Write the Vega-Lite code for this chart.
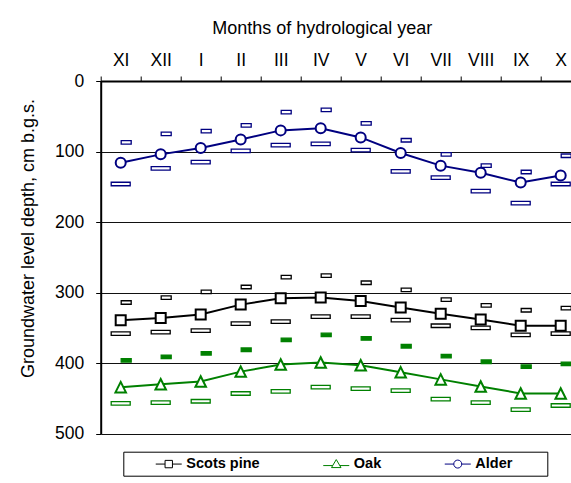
{
  "$schema": "https://vega.github.io/schema/vega-lite/v6.json",
  "width": 470.3,
  "height": 352.7,
  "autosize": {"type": "none"},
  "padding": {"left": 100.7, "top": 81, "right": 0, "bottom": 49.3},
  "background": "white",
  "config": {
    "font": "Liberation Sans",
    "view": {"stroke": null},
    "axis": {"labelColor": "black", "titleColor": "black", "labelFont": "Liberation Sans", "titleFont": "Liberation Sans"},
    "legend": {
      "orient": "none",
      "legendX": 22.6,
      "legendY": 370.7,
      "direction": "horizontal",
      "columns": 3,
      "columnPadding": 35.5,
      "symbolOffset": 33.2,
      "labelOffset": 10.3,
      "labelFont": "Liberation Sans",
      "labelFontSize": 14.5,
      "labelFontWeight": "bold",
      "labelColor": "black",
      "strokeColor": "black",
      "padding": 5,
      "symbolSize": 100,
      "symbolStrokeWidth": 1
    }
  },
  "resolve": {
    "scale": {"shape": "independent", "color": "independent"},
    "legend": {"shape": "independent", "color": "independent"}
  },
  "data": {
    "values": [
      {"month": "XI", "series": "Scots pine", "mean": 339, "hi": 314, "lo": 358},
      {"month": "XII", "series": "Scots pine", "mean": 336, "hi": 307, "lo": 356},
      {"month": "I", "series": "Scots pine", "mean": 331, "hi": 299, "lo": 354},
      {"month": "II", "series": "Scots pine", "mean": 317, "hi": 292, "lo": 344},
      {"month": "III", "series": "Scots pine", "mean": 308, "hi": 278, "lo": 341},
      {"month": "IV", "series": "Scots pine", "mean": 307, "hi": 276, "lo": 334},
      {"month": "V", "series": "Scots pine", "mean": 312, "hi": 286, "lo": 334},
      {"month": "VI", "series": "Scots pine", "mean": 321, "hi": 296, "lo": 339},
      {"month": "VII", "series": "Scots pine", "mean": 330, "hi": 310, "lo": 347},
      {"month": "VIII", "series": "Scots pine", "mean": 338, "hi": 318, "lo": 350},
      {"month": "IX", "series": "Scots pine", "mean": 347, "hi": 325, "lo": 360},
      {"month": "X", "series": "Scots pine", "mean": 347, "hi": 322, "lo": 358},
      {"month": "XI", "series": "Oak", "mean": 434, "hi": 396, "lo": 457},
      {"month": "XII", "series": "Oak", "mean": 430, "hi": 391, "lo": 456},
      {"month": "I", "series": "Oak", "mean": 426, "hi": 386, "lo": 454},
      {"month": "II", "series": "Oak", "mean": 412, "hi": 381, "lo": 443},
      {"month": "III", "series": "Oak", "mean": 402, "hi": 367, "lo": 440},
      {"month": "IV", "series": "Oak", "mean": 399, "hi": 360, "lo": 434},
      {"month": "V", "series": "Oak", "mean": 403, "hi": 365, "lo": 436},
      {"month": "VI", "series": "Oak", "mean": 413, "hi": 376, "lo": 439},
      {"month": "VII", "series": "Oak", "mean": 423, "hi": 390, "lo": 451},
      {"month": "VIII", "series": "Oak", "mean": 433, "hi": 398, "lo": 456},
      {"month": "IX", "series": "Oak", "mean": 443, "hi": 405, "lo": 466},
      {"month": "X", "series": "Oak", "mean": 443, "hi": 401, "lo": 460},
      {"month": "XI", "series": "Alder", "mean": 116, "hi": 87, "lo": 146},
      {"month": "XII", "series": "Alder", "mean": 104, "hi": 75, "lo": 124},
      {"month": "I", "series": "Alder", "mean": 95, "hi": 71, "lo": 115},
      {"month": "II", "series": "Alder", "mean": 83, "hi": 63, "lo": 99},
      {"month": "III", "series": "Alder", "mean": 70, "hi": 44, "lo": 91},
      {"month": "IV", "series": "Alder", "mean": 67, "hi": 41, "lo": 89},
      {"month": "V", "series": "Alder", "mean": 80, "hi": 60, "lo": 98},
      {"month": "VI", "series": "Alder", "mean": 102, "hi": 84, "lo": 128},
      {"month": "VII", "series": "Alder", "mean": 120, "hi": 104, "lo": 137},
      {"month": "VIII", "series": "Alder", "mean": 130, "hi": 120, "lo": 156},
      {"month": "IX", "series": "Alder", "mean": 144, "hi": 129, "lo": 173},
      {"month": "X", "series": "Alder", "mean": 134, "hi": 106, "lo": 146}
    ]
  },
  "encoding": {
    "x": {
      "field": "month",
      "type": "nominal",
      "sort": ["XI", "XII", "I", "II", "III", "IV", "V", "VI", "VII", "VIII", "IX", "X"],
      "scale": {"type": "band", "range": [0, 480], "paddingInner": 0, "paddingOuter": 0},
      "axis": {
        "orient": "top",
        "title": "Months of hydrological year",
        "titleFontSize": 18,
        "titleFontWeight": "normal",
        "titleX": 221,
        "titleY": -47.7,
        "titleBaseline": "alphabetic",
        "titleAlign": "center",
        "labelAngle": 0,
        "labelFontSize": 17.5,
        "labelBaseline": "alphabetic",
        "labelPadding": 10.7,
        "labelOverlap": false,
        "tickSize": 5,
        "tickBand": "extent",
        "tickColor": "black",
        "domainColor": "black",
        "domainWidth": 2,
        "grid": false
      }
    }
  },
  "layer": [
    {
      "mark": {"type": "line", "strokeWidth": 2},
      "encoding": {
        "y": {
          "field": "mean",
          "type": "quantitative",
          "title": "Groundwater level depth, cm b.g.s.",
          "scale": {"domain": [0, 500], "reverse": true, "nice": false},
          "axis": {
            "title": "Groundwater level depth, cm b.g.s.",
            "titleFontSize": 18,
            "titleFontWeight": "normal",
            "titleX": -67.7,
            "titleY": 157,
            "titleBaseline": "alphabetic",
            "titleAlign": "center",
            "titleAngle": -90,
            "values": [0, 100, 200, 300, 400, 500],
            "labelFontSize": 17.5,
            "labelPadding": 12,
            "tickSize": 5,
            "tickColor": "black",
            "domainColor": "black",
            "domainWidth": 2,
            "grid": true,
            "gridColor": "#111111",
            "gridWidth": 1
          }
        },
        "color": {
          "field": "series",
          "type": "nominal",
          "scale": {"domain": ["Scots pine", "Oak", "Alder"], "range": ["#000000", "#008000", "#000080"]},
          "legend": null
        }
      }
    },
    {
      "mark": {"type": "tick", "orient": "horizontal", "size": 19, "thickness": 3.5, "fill": "white", "strokeWidth": 1.3, "opacity": 1},
      "encoding": {
        "y": {"field": "lo", "type": "quantitative", "title": "Groundwater level depth, cm b.g.s."},
        "stroke": {
          "field": "series",
          "type": "nominal",
          "scale": {"domain": ["Scots pine", "Oak", "Alder"], "range": ["#000000", "#008000", "#000080"]},
          "legend": null
        }
      }
    },
    {
      "mark": {"type": "tick", "orient": "horizontal", "size": 10, "thickness": 3.5, "strokeWidth": 1.3, "xOffset": 5.5, "opacity": 1},
      "encoding": {
        "y": {"field": "hi", "type": "quantitative", "title": "Groundwater level depth, cm b.g.s."},
        "stroke": {
          "field": "series",
          "type": "nominal",
          "scale": {"domain": ["Scots pine", "Oak", "Alder"], "range": ["#000000", "#008000", "#000080"]},
          "legend": null
        },
        "fill": {
          "field": "series",
          "type": "nominal",
          "scale": {"domain": ["Scots pine", "Oak", "Alder"], "range": ["#ffffff", "#008000", "#ffffff"]},
          "legend": null
        }
      }
    },
    {
      "mark": {"type": "point", "filled": false, "fill": "white", "opacity": 1, "strokeWidth": 2, "size": 100},
      "encoding": {
        "y": {"field": "mean", "type": "quantitative", "title": "Groundwater level depth, cm b.g.s."},
        "color": {
          "field": "series",
          "type": "nominal",
          "scale": {"domain": ["Scots pine", "Oak", "Alder"], "range": ["#000000", "#008000", "#000080"]},
          "legend": null
        },
        "shape": {
          "field": "series",
          "type": "nominal",
          "scale": {"domain": ["Scots pine", "Oak", "Alder"], "range": ["square", "M0,-1.05L1.05,1.05H-1.05Z", "circle"]},
          "legend": null
        }
      }
    },
    {
      "transform": [{"filter": "false"}],
      "mark": {"type": "point", "filled": false, "opacity": 1, "strokeWidth": 1, "size": 100},
      "encoding": {
        "y": {"field": "mean", "type": "quantitative", "title": "Groundwater level depth, cm b.g.s."},
        "color": {
          "field": "series",
          "type": "nominal",
          "title": null,
          "scale": {"domain": ["Scots pine", "Oak", "Alder"], "range": ["#000000", "#008000", "#000080"]},
          "legend": {"title": null}
        },
        "shape": {
          "field": "series",
          "type": "nominal",
          "title": null,
          "scale": {"domain": ["Scots pine", "Oak", "Alder"], "range": ["M-2.6,0H-0.74M0.74,0H2.6M-0.74,-0.74H0.74V0.74H-0.74Z", "M-2.6,0.3H-0.7M0.7,0.3H2.6M0,-0.9L0.95,0.7H-0.95Z", "M-2.6,0H-0.8M0.8,0H2.6M-0.8,0A0.8,0.8,0,1,0,0.8,0A0.8,0.8,0,1,0,-0.8,0ZM16.4,0"]},
          "legend": {"title": null}
        }
      }
    }
  ]
}
